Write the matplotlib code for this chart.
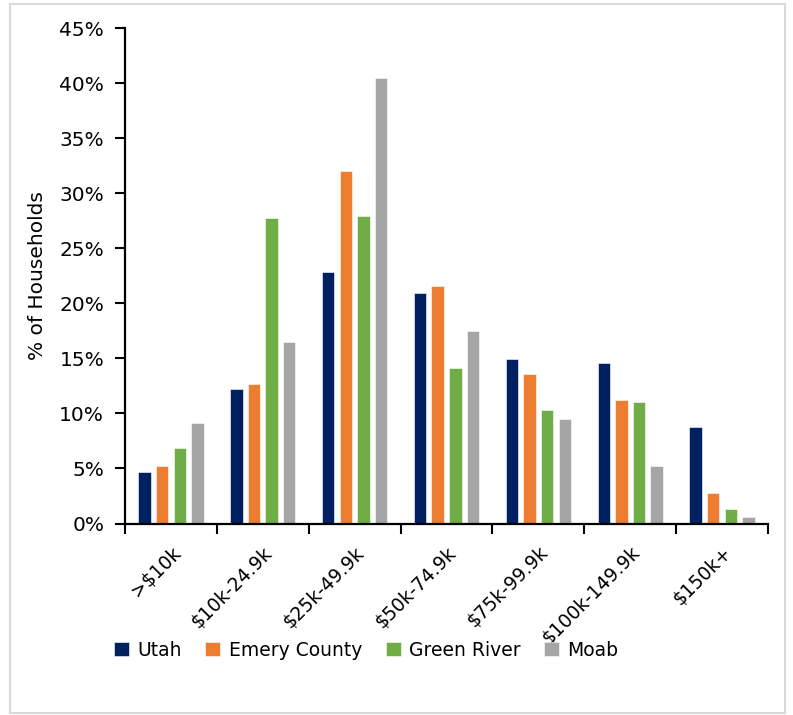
#!/usr/bin/env python3
"""Household income distribution: Utah vs Emery County, Green River, Moab."""
import matplotlib
matplotlib.use('Agg')
import matplotlib.pyplot as plt
from matplotlib.patches import Rectangle
from matplotlib.ticker import FuncFormatter, FixedLocator
import numpy as np

categories = ['>$10k', '$10k-24.9k', '$25k-49.9k', '$50k-74.9k',
              '$75k-99.9k', '$100k-149.9k', '$150k+']
series_names = ['Utah', 'Emery County', 'Green River', 'Moab']
utah = [4.7, 12.2, 22.8, 20.9, 14.9, 14.6, 8.8]
emery = [5.2, 12.7, 32.0, 21.6, 13.6, 11.2, 2.8]
green_river = [6.9, 27.7, 27.9, 14.1, 10.3, 11.0, 1.3]
moab = [9.1, 16.5, 40.5, 17.5, 9.5, 5.2, 0.6]
colors = ['#002060', '#ED7D31', '#70AD47', '#A5A5A5']

plt.rcParams['font.family'] = ['DejaVu Sans']

fig = plt.figure(figsize=(7.93, 7.15), dpi=100)
ax = fig.add_axes([125 / 793, 1 - 523.5 / 715, 643 / 793, (523.5 - 28) / 715])

# light grey frame round the whole chart
fig.patches.append(Rectangle((10 / 793, 2 / 715), 775 / 793, 709 / 715,
                             transform=fig.transFigure, fill=False,
                             edgecolor='#D9D9D9', linewidth=1.5))

x = np.arange(len(categories))
step = 0.192
offsets = [-1.5 * step, -0.5 * step, 0.5 * step, 1.5 * step]
for vals, name, col, off in zip([utah, emery, green_river, moab], series_names, colors, offsets):
    ax.bar(x + off, vals, 0.135, color=col, label=name, edgecolor='white', linewidth=0.4)

ax.set_xlim(-0.5, len(categories) - 0.5)
ax.set_ylim(0, 45)
ax.set_yticks(np.arange(0, 46, 5))
ax.yaxis.set_major_formatter(FuncFormatter(lambda v, p: f'{v:.0f}%'))
ax.tick_params(axis='y', labelsize=14.5, length=7, width=1.5, pad=8)

ax.set_xticks(x)
ax.set_xticklabels(categories, rotation=45, ha='right', rotation_mode='anchor', fontsize=13.5)
ax.tick_params(axis='x', which='major', length=0, pad=14)
ax.xaxis.set_minor_locator(FixedLocator(np.arange(-0.5, len(categories), 1.0)))
ax.tick_params(axis='x', which='minor', length=7, width=1.5)

ax.set_ylabel('% of Households', fontsize=14.5, labelpad=9)

for side in ['top', 'right']:
    ax.spines[side].set_visible(False)
for side in ['left', 'bottom']:
    ax.spines[side].set_linewidth(1.6)

fig.legend(loc='center left', bbox_to_anchor=(97 / 793, 1 - 650 / 715), ncol=4,
           frameon=False, fontsize=13.5, handlelength=0.8, handleheight=0.8,
           handletextpad=0.45, columnspacing=1.25)

fig.savefig('out.png', dpi=100)
plt.close()
